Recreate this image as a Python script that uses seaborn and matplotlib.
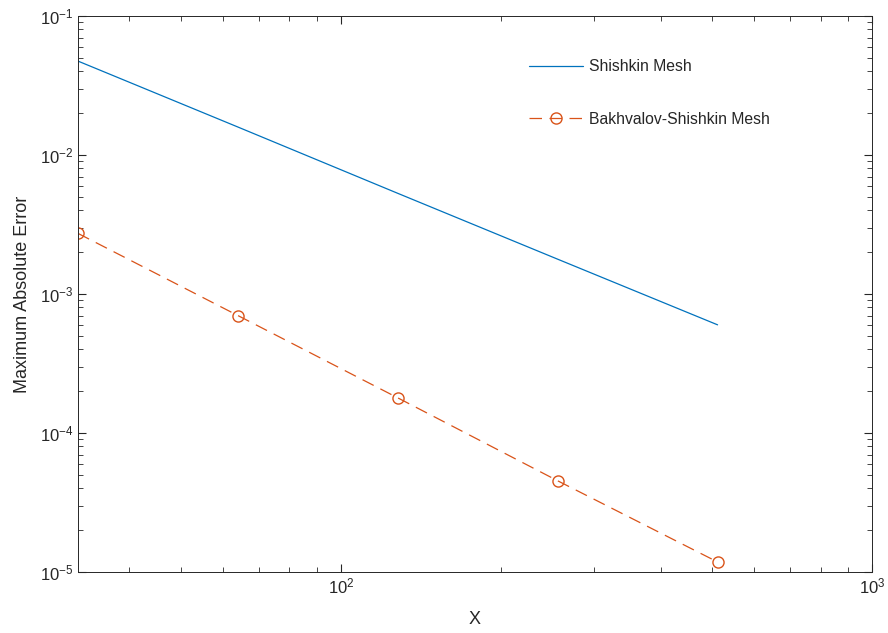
import pandas as pd
import seaborn as sns
import matplotlib
import matplotlib.pyplot as plt

matplotlib.use('Agg')

# data
n_points = [32, 64, 128, 256, 512]
shishkin_err = [0.0474, 0.0159, 0.0053, 0.00178, 0.0006]
bakhvalov_err = [0.00273, 0.00070, 0.000179, 0.0000453, 0.0000118]

sns.set_style("ticks")
plt.rcParams['font.family'] = ['Liberation Sans', 'DejaVu Sans']
plt.rcParams['axes.unicode_minus'] = False
plt.rcParams['xtick.direction'] = 'in'
plt.rcParams['ytick.direction'] = 'in'

df = pd.DataFrame({'X': n_points, 'Shishkin Mesh': shishkin_err,
                   'Bakhvalov-Shishkin Mesh': bakhvalov_err})

fig = plt.figure(figsize=(8.88, 6.33), dpi=100)
ax = fig.add_axes([0.0878, 0.0964, 0.982 - 0.0878, 0.9747 - 0.0964])

sns.lineplot(data=df, x='X', y='Shishkin Mesh', ax=ax, color='#0072BD',
             linewidth=0.9, label='Shishkin Mesh')
sns.lineplot(data=df, x='X', y='Bakhvalov-Shishkin Mesh', ax=ax, color='#D95319',
             linewidth=0.9, marker='o', markersize=8, markerfacecolor='none',
             markeredgecolor='#D95319', markeredgewidth=1.0,
             dashes=False, label='Bakhvalov-Shishkin Mesh')
ax.lines[1].set_dashes([10, 6])

ax.set_xscale('log')
ax.set_yscale('log')
ax.set_xlim(32, 1000)
ax.set_ylim(1e-5, 1e-1)

for s in ax.spines.values():
    s.set_visible(True)
    s.set_color('#262626')
    s.set_linewidth(0.7)
ax.tick_params(which='both', top=True, right=True, colors='#262626', labelsize=12)
ax.tick_params(which='major', length=6)
ax.tick_params(which='minor', length=3.5)

ax.set_xlabel('X', fontsize=13, color='#262626', labelpad=10)
ax.set_ylabel('Maximum Absolute Error', fontsize=13, color='#262626', labelpad=6)

leg = ax.legend(loc='upper left', bbox_to_anchor=(0.5504, 0.948), frameon=False,
                fontsize=11.3, handlelength=3.45, handletextpad=0.35,
                labelspacing=2.4)
leg.get_lines()[1].set_dashes([10, 6])

plt.savefig('out.png', dpi=100)
